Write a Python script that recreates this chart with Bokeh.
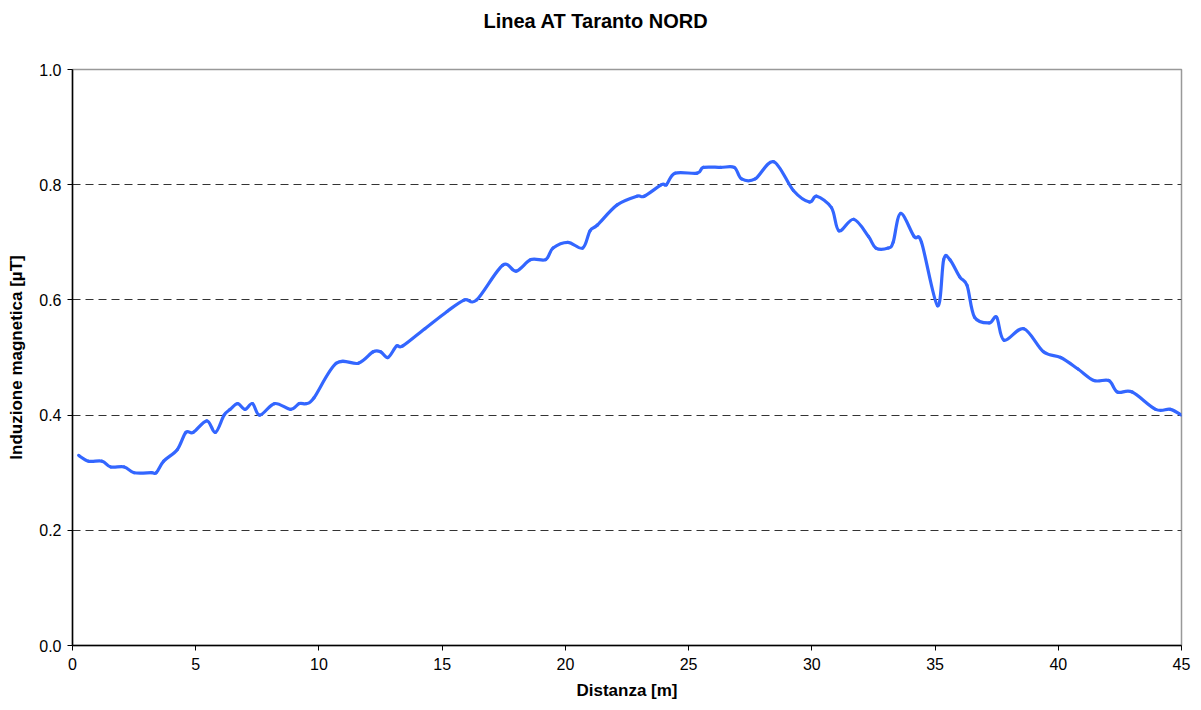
from bokeh.plotting import figure
from bokeh.models import Range1d, FixedTicker, PrintfTickFormatter, Title
from bokeh.embed import file_html
from bokeh.resources import INLINE

distanza = [0.25, 0.65, 1.2, 1.55, 2.1, 2.5, 3.2, 3.4, 3.7, 4.25, 4.6, 4.9, 5.45, 5.8,
            6.15, 6.4, 6.7, 7.0, 7.3, 7.6, 8.2, 8.85, 9.2, 9.5, 9.8, 10.7, 11.6, 12.2,
            12.5, 12.8, 13.15, 13.4, 14.3, 15.2, 15.9, 16.4, 17.45, 18.0, 18.6, 19.2,
            19.5, 20.1, 20.7, 21.0, 21.3, 22.1, 22.9, 23.2, 23.9, 24.1, 24.45, 25.35,
            25.6, 26.3, 26.85, 27.15, 27.7, 28.45, 29.25, 29.9, 30.2, 30.8, 31.1, 31.7,
            32.3, 32.6, 33.1, 33.3, 33.6, 34.15, 34.45, 35.1, 35.35, 35.6, 36.0, 36.3,
            36.6, 37.2, 37.5, 37.8, 38.6, 39.4, 40.1, 40.8, 41.45, 42.05, 42.4, 43.0,
            43.95, 44.55, 45.0]
induzione = [0.33, 0.32, 0.32, 0.31, 0.31, 0.30, 0.30, 0.30, 0.32, 0.34, 0.37, 0.37, 0.39, 0.37,
             0.40, 0.41, 0.42, 0.41, 0.42, 0.40, 0.42, 0.41, 0.42, 0.42, 0.43, 0.49, 0.49, 0.51,
             0.51, 0.50, 0.52, 0.52, 0.55, 0.58, 0.60, 0.60, 0.66, 0.65, 0.67, 0.67,
             0.69, 0.70, 0.69, 0.72, 0.73, 0.765, 0.78, 0.78, 0.80, 0.80, 0.82, 0.82,
             0.83, 0.83, 0.83, 0.81, 0.81, 0.84, 0.79, 0.77, 0.78, 0.76, 0.72, 0.74,
             0.71, 0.69, 0.69, 0.70, 0.75, 0.71, 0.70, 0.59, 0.67, 0.67, 0.64, 0.625,
             0.57, 0.56, 0.57, 0.53, 0.55, 0.51, 0.50, 0.48, 0.46, 0.46, 0.44, 0.44,
             0.41, 0.41, 0.40]

x_ticks = [0, 5, 10, 15, 20, 25, 30, 35, 40, 45]
y_ticks = [0.0, 0.2, 0.4, 0.6, 0.8, 1.0]
title_text = "Linea AT Taranto NORD"
x_label = "Distanza [m]"
y_label = "Induzione magnetica [µT]"

FONT = "Liberation Sans"

p = figure(width=1201, height=710, output_backend="svg", toolbar_location=None,
           x_range=Range1d(0, 45), y_range=Range1d(0, 1),
           min_border_left=72, min_border_right=20, min_border_top=69, min_border_bottom=65)
p.title = None
# blank spacer between the frame and the title (pushes the title upwards)
spacer = Title(text=" ", text_font=FONT, text_font_size="10px", standoff=16)
p.add_layout(spacer, "above")
t = Title(text=title_text, align="left", vertical_align="top", text_font=FONT,
          text_font_size="20px", text_font_style="bold", text_color="black", offset=411,
          standoff=14)
p.add_layout(t, "above")

# smoothed curve (Catmull-Rom style control points, as in a spreadsheet "smoothed line")
n = len(distanza)
x0, y0, x1, y1, cx0, cy0, cx1, cy1 = [], [], [], [], [], [], [], []
for i in range(n - 1):
    xa, ya = distanza[i], induzione[i]
    xb, yb = distanza[i + 1], induzione[i + 1]
    xp, yp = (distanza[i - 1], induzione[i - 1]) if i > 0 else (xa, ya)
    xn, yn = (distanza[i + 2], induzione[i + 2]) if i + 2 < n else (xb, yb)
    x0.append(xa); y0.append(ya); x1.append(xb); y1.append(yb)
    cx0.append(xa + (xb - xp) / 6.0); cy0.append(ya + (yb - yp) / 6.0)
    cx1.append(xb - (xn - xa) / 6.0); cy1.append(yb - (yn - ya) / 6.0)

p.bezier(x0=x0, y0=y0, x1=x1, y1=y1, cx0=cx0, cy0=cy0, cx1=cx1, cy1=cy1,
         line_color="#3366FF", line_width=3.2, line_cap="round")

p.outline_line_color = "#999999"
p.outline_line_width = 1.5
p.background_fill_color = "white"
p.border_fill_color = "white"

p.xgrid.visible = False
p.ygrid.ticker = FixedTicker(ticks=[0.2, 0.4, 0.6, 0.8, 1.0])
p.ygrid.grid_line_color = "#333333"
p.ygrid.grid_line_dash = "8 5"
p.ygrid.grid_line_width = 1

for ax in (p.xaxis[0], p.yaxis[0]):
    ax.axis_line_color = "black"
    ax.axis_line_width = 1.5
    ax.major_tick_line_color = "black"
    ax.major_tick_in = 0
    ax.major_tick_out = 5
    ax.minor_tick_line_color = None
    ax.major_label_text_font = FONT
    ax.major_label_text_font_size = "16px"
    ax.major_label_text_color = "black"
    ax.axis_label_text_font = FONT
    ax.axis_label_text_font_size = "17px"
    ax.axis_label_text_font_style = "bold"
    ax.axis_label_text_color = "black"

p.xaxis.ticker = FixedTicker(ticks=x_ticks)
p.yaxis.ticker = FixedTicker(ticks=y_ticks)
p.yaxis.formatter = PrintfTickFormatter(format="%.1f")
p.xaxis.axis_label = x_label
p.yaxis.axis_label = y_label
p.xaxis.major_label_standoff = 7
p.xaxis.axis_label_standoff = 8
p.yaxis.major_label_standoff = 6
p.yaxis.axis_label_standoff = 10

open("out.html", "w").write(file_html(p, INLINE))
